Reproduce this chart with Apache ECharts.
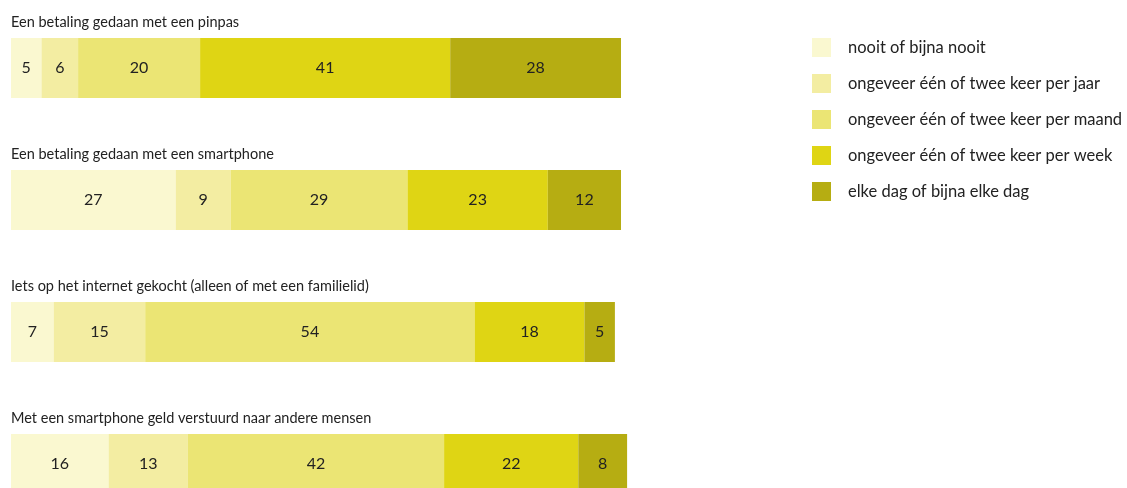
<!DOCTYPE html>
<html>
<head>
<meta charset="utf-8">
<script src="https://cdn.jsdelivr.net/npm/echarts@6/dist/echarts.min.js"></script>
<style>
  html, body { margin: 0; padding: 0; background: #ffffff; }
  #chart { width: 1127px; height: 488px; }
</style>
</head>
<body>
<div id="chart"></div>
<script>
// Vragen (één balk per vraag)
const questions = [
  'Een betaling gedaan met een pinpas',
  'Een betaling gedaan met een smartphone',
  'Iets op het internet gekocht (alleen of met een familielid)',
  'Met een smartphone geld verstuurd naar andere mensen'
];

// Antwoordcategorieën
const frequencies = [
  'nooit of bijna nooit',
  'ongeveer één of twee keer per jaar',
  'ongeveer één of twee keer per maand',
  'ongeveer één of twee keer per week',
  'elke dag of bijna elke dag'
];

// Percentages per categorie, in de volgorde van de vragen
const nooit = [5, 27, 7, 16];
const perJaar = [6, 9, 15, 13];
const perMaand = [20, 29, 54, 42];
const perWeek = [41, 23, 18, 22];
const elkeDag = [28, 12, 5, 8];

const values = [nooit, perJaar, perMaand, perWeek, elkeDag];
const colors = ['#FAF8D0', '#F3EDA2', '#EBE574', '#DFD514', '#B6AD12'];

const FONT = 'Lato';
const ROW = 132;       // afstand tussen de balken
const FIRST = 68;      // midden van de eerste balk

const chart = echarts.init(document.getElementById('chart'));

chart.setOption({
  animation: false,
  backgroundColor: '#ffffff',
  textStyle: { fontFamily: FONT },
  title: questions.map((q, i) => ({
    text: q,
    left: 11,
    top: 15 + i * ROW,
    padding: 0,
    textStyle: { fontFamily: FONT, fontSize: 14.5, fontWeight: 'normal', color: '#222222' }
  })),
  legend: {
    orient: 'vertical',
    left: 812,
    top: 38,
    padding: 0,
    itemWidth: 19,
    itemHeight: 19,
    itemGap: 17,
    icon: 'rect',
    data: frequencies,
    textStyle: { fontFamily: FONT, fontSize: 16.5, color: '#222222', padding: [0, 0, 0, 12] }
  },
  grid: {
    left: 11, width: 610,
    top: FIRST, height: ROW * (questions.length - 1),
    containLabel: false
  },
  xAxis: { type: 'value', min: 0, max: 100, show: false },
  yAxis: { type: 'category', inverse: true, boundaryGap: false, data: questions, show: false },
  series: frequencies.map((name, k) => ({
    name: name,
    type: 'bar',
    stack: 'totaal',
    barWidth: 60,
    clip: false,
    itemStyle: { color: colors[k] },
    label: {
      show: true,
      position: 'inside',
      fontFamily: FONT,
      fontSize: 16,
      color: '#222222'
    },
    data: values[k]
  }))
});
</script>
</body>
</html>
